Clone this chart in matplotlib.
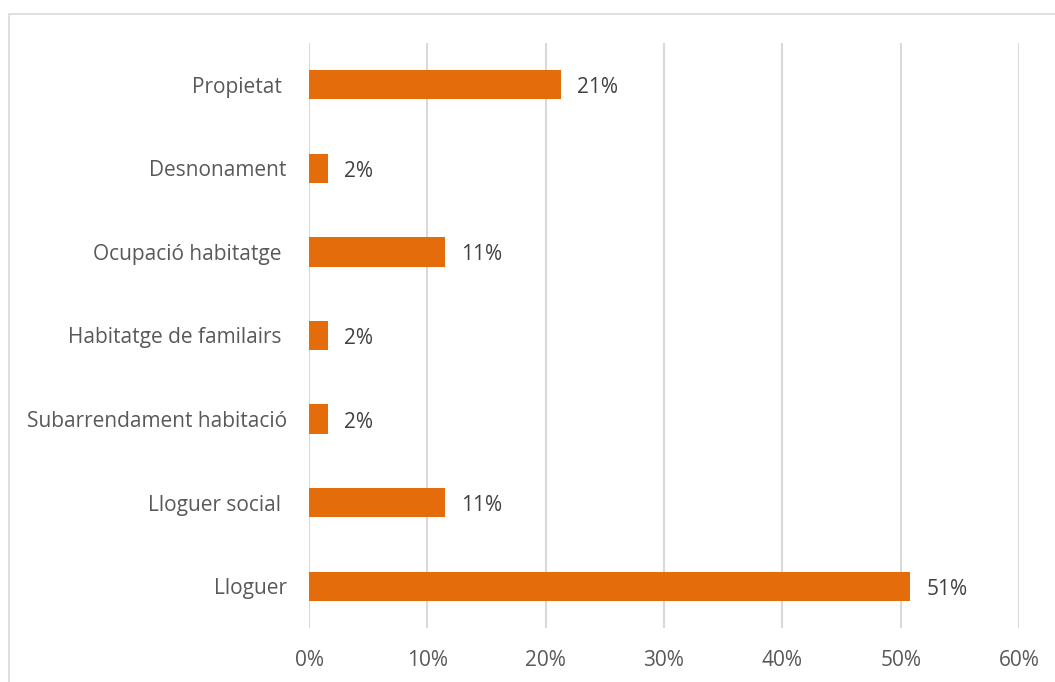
import matplotlib
matplotlib.use("Agg")
import matplotlib.pyplot as plt
from matplotlib.patches import Rectangle

categories = ["Lloguer", "Lloguer social ", "Subarrendament habitació", "Habitatge de familairs ",
              "Ocupació habitatge ", "Desnonament", "Propietat "]
values = [50.8, 11.5, 1.6, 1.6, 11.5, 1.6, 21.3]
labels = ["51%", "11%", "2%", "2%", "11%", "2%", "21%"]
xticks = [0, 10, 20, 30, 40, 50, 60]

plt.rcParams['font.family'] = ['Open Sans', 'DejaVu Sans']
W, H = 1055, 682
fig = plt.figure(figsize=(W/100, H/100), dpi=100)
fig.patches.append(Rectangle((9/W, -0.1), 1.2, (682-14)/H + 0.1, transform=fig.transFigure,
                             fill=False, edgecolor="#d9d9d9", linewidth=1.2))
ax = fig.add_axes([309/W, (682-628)/H, 710/W, 585/H])
y = list(range(len(categories)))
ax.barh(y, values, height=0.35, color="#E46C0A", zorder=3)
for yi, v, lab in zip(y, values, labels):
    ax.annotate(lab, (v, yi), xytext=(16, -3), textcoords="offset pixels",
                va="center", ha="left", fontsize=15, color="#404040")
ax.set_xlim(0, 60)
ax.set_ylim(-0.5, 6.5)
ax.set_xticks(xticks)
ax.set_xticklabels([f"{t}%" for t in xticks])
ax.set_yticks(y)
ax.set_yticklabels(categories)
ax.tick_params(axis='both', length=0, labelsize=15, labelcolor="#595959")
ax.tick_params(axis='y', pad=16)
ax.tick_params(axis='x', pad=16)
ax.grid(axis='x', color="#d9d9d9", linewidth=1.5, zorder=0)
for s in ax.spines.values():
    s.set_visible(False)
fig.savefig("out.png", dpi=100)
